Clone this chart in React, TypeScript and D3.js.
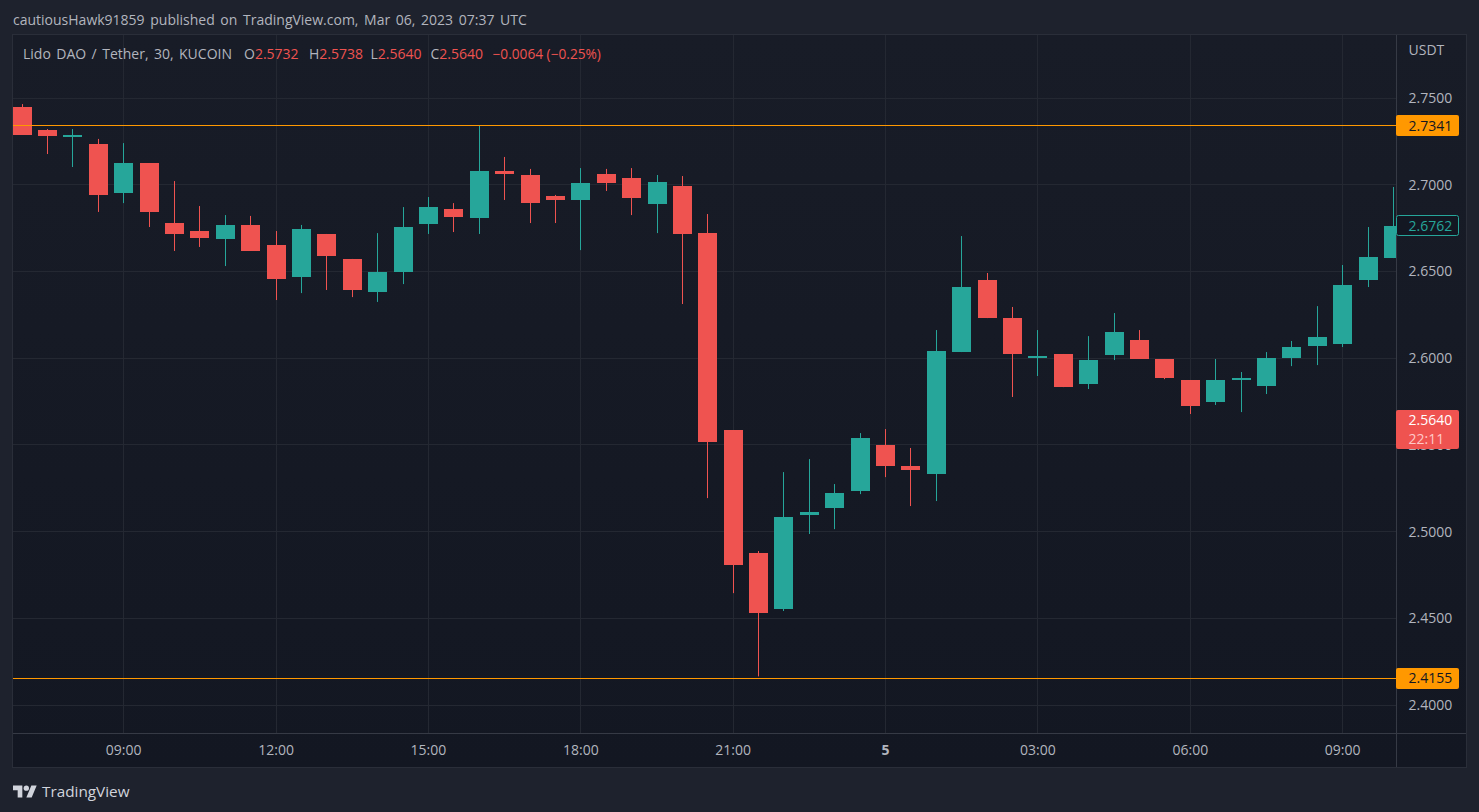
import React from "react";
import * as d3 from "d3";

const opens = [2.7448,2.7315,2.7281,2.7235,2.6952,2.7125,2.6779,2.6733,2.6687,2.6768,2.6652,2.6468,2.6716,2.6572,2.6381,2.6497,2.6773,2.6860,2.6808,2.7079,2.7056,2.6935,2.6912,2.7062,2.7039,2.6889,2.6993,2.6721,2.5585,2.4876,2.4553,2.5095,2.5136,2.5234,2.5499,2.5378,2.5332,2.6035,2.6450,2.6231,2.6006,2.6024,2.5851,2.6018,2.6104,2.5995,2.5874,2.5747,2.5874,2.5839,2.6001,2.6070,2.6081,2.6450,2.6577];
const highs = [2.7465,2.7321,2.7321,2.7264,2.7240,2.7125,2.7021,2.6877,2.6825,2.6820,2.6733,2.6768,2.6716,2.6572,2.6721,2.6871,2.6929,2.6894,2.7341,2.7160,2.7091,2.6941,2.7096,2.7091,2.7096,2.7056,2.7050,2.6831,2.5585,2.4888,2.5343,2.5418,2.5274,2.5568,2.5591,2.5482,2.6162,2.6704,2.6491,2.6295,2.6162,2.6024,2.6127,2.6260,2.6162,2.5995,2.5874,2.5995,2.5920,2.6035,2.6099,2.6300,2.6537,2.6756,2.6987];
const lows = [2.7287,2.7177,2.7102,2.6843,2.6894,2.6756,2.6618,2.6641,2.6531,2.6618,2.6335,2.6375,2.6393,2.6352,2.6324,2.6427,2.6716,2.6727,2.6716,2.6912,2.6779,2.6779,2.6623,2.6964,2.6825,2.6721,2.6312,2.5193,2.4645,2.4165,2.4542,2.4986,2.5014,2.5216,2.5314,2.5147,2.5176,2.6035,2.6231,2.5776,2.5897,2.5833,2.5822,2.5989,2.5995,2.5879,2.5678,2.5730,2.5689,2.5793,2.5954,2.5960,2.6064,2.6410,2.6577];
const closes = [2.7287,2.7281,2.7287,2.6941,2.7125,2.6843,2.6716,2.6693,2.6768,2.6618,2.6456,2.6745,2.6589,2.6393,2.6497,2.6756,2.6871,2.6814,2.7079,2.7062,2.6894,2.6912,2.7010,2.7010,2.6923,2.7016,2.6716,2.5516,2.4807,2.4530,2.5084,2.5112,2.5222,2.5539,2.5378,2.5355,2.6041,2.6410,2.6231,2.6024,2.6012,2.5833,2.5989,2.6151,2.5995,2.5885,2.5724,2.5874,2.5885,2.6001,2.6064,2.6122,2.6422,2.6583,2.6762];

const priceTicks = [2.75, 2.7, 2.65, 2.6, 2.55, 2.5, 2.45, 2.4];
const timeTickIndex = [4, 10, 16, 22, 28, 34, 40, 46, 52];
const timeTickLabels = ["09:00", "12:00", "15:00", "18:00", "21:00", "5", "03:00", "06:00", "09:00"];
const orangeLevels = [2.7341, 2.4155];
const lastPrice = 2.6762;
const symbolClose = 2.564;
const countdown = "22:11";
const titleText = "cautiousHawk91859 published on TradingView.com, Mar 06, 2023 07:37 UTC";
const symbolName = "Lido DAO / Tether, 30, KUCOIN";
const ohlcLegend = [["O", "2.5732", 244], ["H", "2.5738", 309], ["L", "2.5640", 370.5], ["C", "2.5640", 430.5]] as const;
const changeText = "−0.0064 (−0.25%)";

const UP = "#26a69a";
const DOWN = "#ef5350";
const ORANGE = "#ff9800";
const TEXT = "#b2b5be";
const GRID = "#242832";
const BORDER = "#2a2e39";
const FONT = "'Open Sans', sans-serif";

const W = 1479, H = 812;
const paneL = 13, paneR = 1396, paneT = 35, axisY = 733, outerR = 1466, outerB = 767;

export default function App() {
  const y = d3.scaleLinear().domain([2.75, 2.4]).range([98, 705]);
  const x = d3.scaleLinear().domain([0, 54]).range([22.1, 1393.5]);
  const bodyW = 19;
  const crisp = (v: number) => Math.floor(v) + 0.5;
  const fmt = d3.format(".4f");

  const axisBadge = (v: number, fill: string, fg: string, stroke?: string) => (
    <g key={v}>
      <rect x={paneR + (stroke ? 0.5 : 0)} y={Math.floor(y(v)) - 10 + (stroke ? 0.5 : 0)} width={63 - (stroke ? 1 : 0)} height={21 - (stroke ? 1 : 0)} rx={2} fill={fill} stroke={stroke || "none"} />
      <text x={1408.5} y={y(v) + 5} fontSize={14} fill={fg} fontFamily={FONT}>{fmt(v)}</text>
    </g>
  );

  return (
    <svg width={W} height={H} viewBox={`0 0 ${W} ${H}`} style={{ position: "absolute", left: 0, top: 0, display: "block" }}>
      <defs>
        <linearGradient id="pane" x1="0" y1="0" x2="0" y2="1">
          <stop offset="0" stopColor="#181c27" />
          <stop offset="1" stopColor="#131722" />
        </linearGradient>
        <clipPath id="plot"><rect x={paneL} y={paneT} width={paneR - paneL} height={axisY - paneT} /></clipPath>
      </defs>
      <rect width={W} height={H} fill="#1e222d" />
      <text x={13} y={25} fontSize={14} fill={TEXT} fontFamily={FONT} wordSpacing={2}>{titleText}</text>

      <rect x={paneL} y={paneT} width={outerR - paneL} height={outerB - paneT} fill="url(#pane)" />
      <rect x={12.5} y={34.5} width={outerR - 12} height={outerB - 34} fill="none" stroke={BORDER} />

      <g clipPath="url(#plot)">
        {priceTicks.map((p) => (
          <line key={p} x1={paneL} x2={paneR} y1={crisp(y(p))} y2={crisp(y(p))} stroke={GRID} />
        ))}
        {timeTickIndex.map((i) => (
          <line key={i} y1={paneT} y2={axisY} x1={crisp(x(i))} x2={crisp(x(i))} stroke={GRID} />
        ))}
        {opens.map((o, i) => {
          const c = closes[i];
          const col = c >= o ? UP : DOWN;
          const top = Math.round(y(Math.max(o, c)));
          const bot = Math.round(y(Math.min(o, c)));
          const cx = crisp(x(i));
          return (
            <g key={i}>
              <line x1={cx} x2={cx} y1={y(highs[i])} y2={y(lows[i])} stroke={col} />
              <rect x={cx - bodyW / 2} y={top} width={bodyW} height={Math.max(bot - top, 2)} fill={col} />
            </g>
          );
        })}
        {orangeLevels.map((l) => (
          <line key={l} x1={paneL} x2={paneR} y1={crisp(y(l))} y2={crisp(y(l))} stroke={ORANGE} />
        ))}
      </g>

      <line x1={paneR + 0.5} x2={paneR + 0.5} y1={paneT} y2={outerB} stroke="#363a45" />
      <line x1={paneL} x2={outerR} y1={axisY + 0.5} y2={axisY + 0.5} stroke="#363a45" />

      <text x={23} y={59} fontSize={14} fontFamily={FONT} fill={TEXT} wordSpacing={1.8}>{symbolName}</text>
      {ohlcLegend.map(([k, v, px]) => (
        <text key={k} x={px} y={59} fontSize={14} fontFamily={FONT} fill={TEXT}>
          {k}<tspan fill={DOWN}>{v}</tspan>
        </text>
      ))}
      <text x={492.5} y={59} fontSize={13.7} fontFamily={FONT} fill={DOWN}>{changeText}</text>

      <text x={1408.5} y={55} fontSize={14} fill={TEXT} fontFamily={FONT}>USDT</text>
      {priceTicks.map((p) => (
        <text key={p} x={1408.5} y={y(p) + 5} fontSize={14} fill={TEXT} fontFamily={FONT}>{fmt(p)}</text>
      ))}
      {timeTickIndex.map((i, k) => (
        <text key={i} x={x(i)} y={755} textAnchor="middle" fontSize={14} fontWeight={timeTickLabels[k] === "5" ? 700 : 400} fill={TEXT} fontFamily={FONT}>{timeTickLabels[k]}</text>
      ))}

      {orangeLevels.map((l) => axisBadge(l, ORANGE, "#131722"))}
      {axisBadge(lastPrice, "#131722", UP, UP)}

      <g>
        <rect x={paneR} y={410} width={63} height={39} rx={2} fill={DOWN} />
        <text x={1408.5} y={y(symbolClose) + 4} fontSize={14} fill="#ffffff" fontFamily={FONT}>{fmt(symbolClose)}</text>
        <text x={1408.5} y={444} fontSize={14} fill="#ffc9c8" fontFamily={FONT}>{countdown}</text>
      </g>

      <g transform="translate(13 783.5) scale(0.667)" fill="#d1d4dc">
        <path d="M14 21H7V10H0V3h14v18zM28 21h-8l7.5-18h8L28 21z" />
        <circle cx="20" cy="7" r="4" />
      </g>
      <text x={42} y={797} fontSize={15.3} fill="#d1d4dc" fontFamily={FONT}>TradingView</text>
    </svg>
  );
}
